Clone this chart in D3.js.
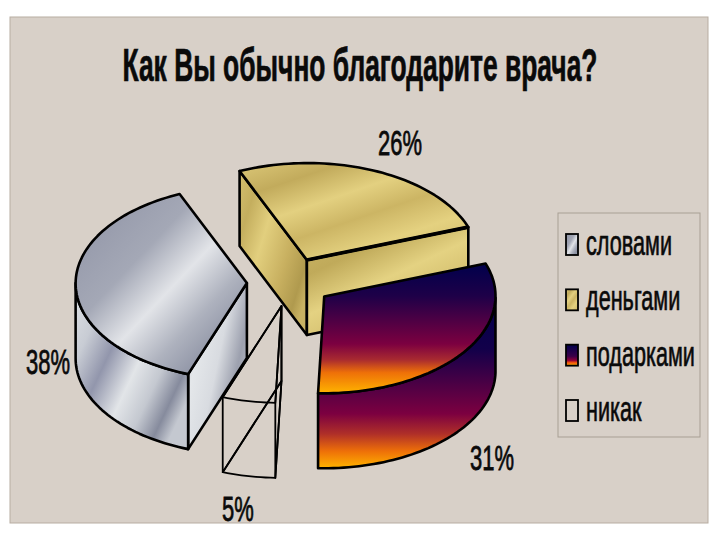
<!DOCTYPE html>
<html><head><meta charset="utf-8">
<script src="https://cdn.jsdelivr.net/npm/d3@7"></script>
<style>html,body{margin:0;padding:0;background:#fff}svg{display:block}text{font-family:"Liberation Sans",sans-serif;fill:#0a0a0a;stroke:#0a0a0a}</style>
</head><body><svg id="c" width="720" height="540"></svg>
<script>
const titleText = "Как Вы обычно благодарите врача?";
const categories = ["словами","деньгами","подарками","никак"];
const values = [38,26,31,5];
const fills = ["silver","gold","fire","none"];
const labelAnchors = [[48,374],[400,155],[492,470],[238,521]];

const bg = "#d8d0c8";
const svg = d3.select("#c");
const defs = svg.append("defs");
function grad(id, stops, x2, y2){
  const g = defs.append("linearGradient").attr("id",id).attr("x1",0).attr("y1",0).attr("x2",x2).attr("y2",y2);
  stops.forEach(s=>g.append("stop").attr("offset",s[0]).attr("stop-color",s[1]));
}
grad("silverTop",[[0,"#8f94a5"],[.2,"#9a9eae"],[.36,"#a4a8b6"],[.54,"#e2e4e8"],[.7,"#aeb2be"],[.86,"#8b90a2"],[1,"#a4a8b6"]],1,1);
grad("silverWall",[[0,"#dfe2e6"],[.22,"#c8ccd4"],[.4,"#9296ac"],[.6,"#e2e5e8"],[.76,"#c4c8d0"],[.9,"#868b9d"],[1,"#c4c8d0"]],1,.7);
grad("silverSide",[[0,"#aeb2be"],[.3,"#e4e7ea"],[.58,"#d8dbe0"],[.84,"#9ca0ae"],[1,"#b4b8c4"]],1,.6);
grad("goldTop",[[0,"#dcc878"],[.22,"#c2ab5c"],[.42,"#e3d080"],[.6,"#ccb564"],[.8,"#e4d180"],[1,"#d4bf6e"]],.8,1);
grad("goldSide",[[0,"#d4bf6e"],[.2,"#c4ae5e"],[.42,"#e2cf7e"],[.7,"#c8b060"],[.9,"#b09a4e"],[1,"#c8b262"]],1,.75);
grad("goldFront",[[0,"#cdb868"],[.3,"#c0aa5a"],[.55,"#e4d282"],[.8,"#d2bd6c"],[1,"#e0cc78"]],.7,1);
grad("fireTop",[[0,"#00004c"],[.25,"#1e0048"],[.62,"#7c0040"],[.74,"#a82a30"],[.84,"#ee7008"],[1,"#ffb400"]],0,1);
grad("fireWall",[[0,"#00004c"],[.3,"#12004a"],[.68,"#7c0040"],[.8,"#b03028"],[.9,"#ee7008"],[1,"#ffb400"]],0,1);
grad("fireSwatch",[[0,"#00004c"],[.55,"#3a0048"],[.75,"#900038"],[.85,"#ee5010"],[1,"#ffb400"]],0,1);

svg.append("rect").attr("x",10).attr("y",17).attr("width",698).attr("height",506).attr("fill",bg).attr("stroke","#b8ada2");

function fitText(x,y,str,size,anchor,sx,weight,sw){
  return svg.append("text").attr("font-size",size).attr("font-weight",weight||"normal")
    .attr("stroke-width",sw).attr("text-anchor",anchor).attr("transform",`translate(${x},${y}) scale(${sx},1)`).text(str);
}
function measure(str,size,weight){
  const t=svg.append("text").attr("font-size",size).attr("font-weight",weight).text(str);
  const w=t.node().getComputedTextLength();t.remove();return w;
}
const titleScale=475/measure(titleText,46,"bold");
fitText(360,81,titleText,46,"middle",titleScale,"bold",.7);

// oblique projection of the unit pie
const origin=[289.7,282.2], axisU=[-67.3,-88.9], axisV=[157.5,-38.5], depth=75, explode=.25;
const dir = t=>[axisU[0]*Math.cos(t)+axisV[0]*Math.sin(t), axisU[1]*Math.cos(t)+axisV[1]*Math.sin(t)];
const start = (223.2-360)*Math.PI/180;
const pie = d3.pie().sort(null).startAngle(start).endAngle(start+2*Math.PI);
const arcs = pie(values);
const line = d3.line();
const frontA = 114.2*Math.PI/180;
function samples(a,b){const n=Math.max(2,Math.ceil(Math.abs(b-a)/.03));return d3.range(n+1).map(i=>a+(b-a)*i/n);}
const down = (p,d=depth)=>[p[0],p[1]+d];

function drawWall(g,pts,fill,w){
  g.append("path").attr("d",line(pts)+"Z").attr("fill",fill).attr("stroke","#000").attr("stroke-width",w).attr("stroke-linejoin","round");
}
function drawSlice(a,i){
  const g = svg.append("g");
  const kind = fills[i];
  const mid=(a.startAngle+a.endAngle)/2, m=dir(mid);
  const c=[origin[0]+explode*m[0],origin[1]+explode*m[1]];
  const pt=t=>{const d=dir(t);return [c[0]+d[0],c[1]+d[1]];};
  const ts=samples(a.startAngle,a.endAngle), rim=ts.map(pt);
  const top=[c,...rim];
  const w=kind==="none"?1.8:2.6;
  if(kind==="none"){
    drawWall(g,top.map(p=>down(p)),bg,w);
    drawWall(g,[c,pt(a.startAngle),down(pt(a.startAngle)),down(c)],"none",w);
    drawWall(g,[c,pt(a.endAngle),down(pt(a.endAngle)),down(c)],"none",w);
    drawWall(g,top,"none",w);
    return;
  }
  const sName=kind==="silver"?"silverSide":kind==="gold"?"goldSide":"fireWall";
  if(dir(a.startAngle)[0]<0){const e=pt(a.startAngle);drawWall(g,[c,e,down(e),down(c)],`url(#${sName})`,w);}
  if(dir(a.endAngle)[0]>0){const e=pt(a.endAngle);drawWall(g,[c,e,down(e),down(c)],`url(#${kind==="gold"?"goldFront":sName})`,w);}
  const norm=t=>{let x=t;while(x<0)x+=2*Math.PI;return x%(2*Math.PI);};
  const vis=ts.filter(t=>{const x=norm(t);return x>=frontA&&x<=frontA+Math.PI;});
  if(vis.length>1){
    const r=vis.map(pt);
    drawWall(g,[...r,...r.map(p=>down(p)).reverse()],`url(#${kind==="silver"?"silverWall":"fireWall"})`,w);
  }
  drawWall(g,top,`url(#${kind==="silver"?"silverTop":kind==="gold"?"goldTop":"fireTop"})`,w);
  if(kind==="gold"){const e=pt(a.endAngle);g.append("path").attr("d",line([c,e])).attr("stroke","#000").attr("stroke-width",3.6);}
}
// painter's order: back to front
[1,3,0,2].forEach(i=>drawSlice(arcs[i],i));

// percent labels
const total=d3.sum(values), pct=d3.format(".0%");
const labelScale=44/measure("26%",36,"normal");
values.forEach((v,i)=>{
  fitText(labelAnchors[i][0],labelAnchors[i][1],pct(v/total),36,"middle",labelScale,"normal",.8);
});

// legend
svg.append("rect").attr("x",558).attr("y",213).attr("width",142).attr("height",224).attr("fill",bg).attr("stroke","#a89f94");
const ly=d3.scalePoint().domain(categories).range([245,411]);
const sw=["silverTop","goldTop","fireSwatch",null];
const legendScale=109/measure("подарками",36,"normal");
categories.forEach((c,i)=>{
  svg.append("rect").attr("x",566).attr("y",ly(c)-11).attr("width",12).attr("height",21)
    .attr("fill",sw[i]?`url(#${sw[i]})`:bg).attr("stroke","#000").attr("stroke-width",1.8);
  fitText(586,ly(c)+10,c,36,"start",legendScale,"normal",.7);
});
</script></body></html>
